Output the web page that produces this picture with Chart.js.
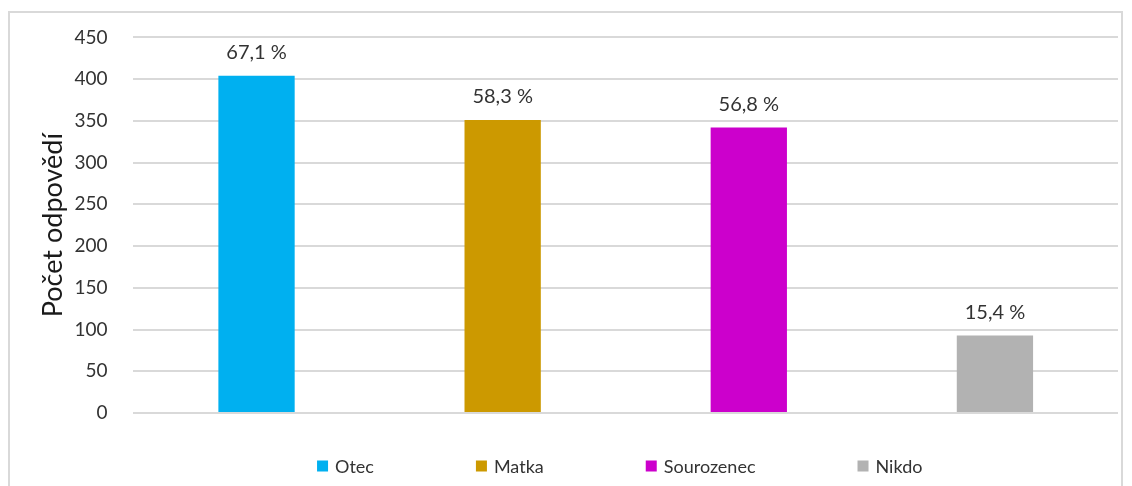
<!DOCTYPE html>
<html lang="cs">
<head>
<meta charset="utf-8">
<title>Počet odpovědí</title>
<script src="https://cdn.jsdelivr.net/npm/chart.js@4/dist/chart.umd.min.js"></script>
<style>
  html, body { margin: 0; padding: 0; background: #fff; }
  #wrap { position: relative; width: 1132px; height: 486px; overflow: hidden; }
  #frame {
    position: absolute; left: 8px; top: 11px; width: 1115px; height: 520px;
    border: 2px solid #d9d9d9; box-sizing: border-box;
  }
  #chart { position: absolute; left: 0; top: 0; }
</style>
</head>
<body>
<div id="wrap">
  <div id="frame"></div>
  <canvas id="chart" width="1132" height="486"></canvas>
</div>
<script>
// data
const categories = ["Otec", "Matka", "Sourozenec", "Nikdo"];
const counts = [404, 351, 342, 93];
const percents = ["67,1 %", "58,3 %", "56,8 %", "15,4 %"];
const colors = ["#00b0f0", "#cc9900", "#cc00cc", "#b2b2b2"];
const yTicks = [0, 50, 100, 150, 200, 250, 300, 350, 400, 450];

const FONT = "Lato, 'Open Sans', sans-serif";

document.addEventListener("DOMContentLoaded", function () {
  const ctx = document.getElementById("chart").getContext("2d");

  // one dataset per category so each bar gets its own legend entry
  const datasets = categories.map((name, i) => ({
    label: name,
    data: categories.map((c, j) => (j === i ? counts[i] : null)),
    backgroundColor: colors[i],
    borderWidth: 0,
    grouped: false,
    categoryPercentage: 1,
    barPercentage: 0.31,
  }));

  // percentage text above every bar
  const barLabels = {
    id: "barLabels",
    afterDatasetsDraw(chart) {
      const c = chart.ctx;
      c.save();
      c.font = "20px " + FONT;
      c.fillStyle = "#333";
      c.textAlign = "center";
      c.textBaseline = "bottom";
      chart.data.datasets.forEach((ds, i) => {
        const bar = chart.getDatasetMeta(i).data[i];
        if (bar) c.fillText(percents[i], bar.x, bar.y - 13);
      });
      c.restore();
    },
  };

  // legend drawn below the plot with wide gaps between entries
  const bottomLegend = {
    id: "bottomLegend",
    afterDraw(chart) {
      const c = chart.ctx;
      const box = 11, gapText = 7, gapItem = 102;
      c.save();
      c.font = "18px " + FONT;
      const widths = categories.map((t) => box + gapText + c.measureText(t).width);
      const total = widths.reduce((a, b) => a + b, 0) + gapItem * (widths.length - 1);
      let x = (chart.chartArea.left + chart.chartArea.right) / 2 - total / 2 - 6;
      const y = 466;
      c.textBaseline = "middle";
      c.textAlign = "left";
      categories.forEach((t, i) => {
        c.fillStyle = colors[i];
        c.fillRect(x, y - box / 2, box, box);
        c.fillStyle = "#333";
        c.fillText(t, x + box + gapText, y + 1);
        x += widths[i] + gapItem;
      });
      c.restore();
    },
  };

  new Chart(ctx, {
    type: "bar",
    data: { labels: categories, datasets: datasets },
    options: {
      responsive: false,
      animation: false,
      layout: { padding: { top: 37, bottom: 65, left: 33, right: 14 } },
      plugins: {
        legend: { display: false },
        tooltip: { enabled: false },
      },
      scales: {
        x: {
          grid: { display: false },
          border: { display: false },
          ticks: { display: false },
        },
        y: {
          min: 0,
          max: 450,
          afterBuildTicks(scale) {
            scale.ticks = yTicks.map((v) => ({ value: v }));
          },
          grid: { color: "#d9d9d9", lineWidth: 2, drawTicks: false },
          border: { display: false },
          ticks: {
            padding: 26,
            color: "#333",
            font: { family: FONT, size: 19 },
          },
          title: {
            display: true,
            text: "Počet odpovědí",
            color: "#1a1a1a",
            padding: { top: 4, bottom: -21 },
            font: { family: FONT, size: 27 },
          },
        },
      },
    },
    plugins: [barLabels, bottomLegend],
  });
});
</script>
</body>
</html>
